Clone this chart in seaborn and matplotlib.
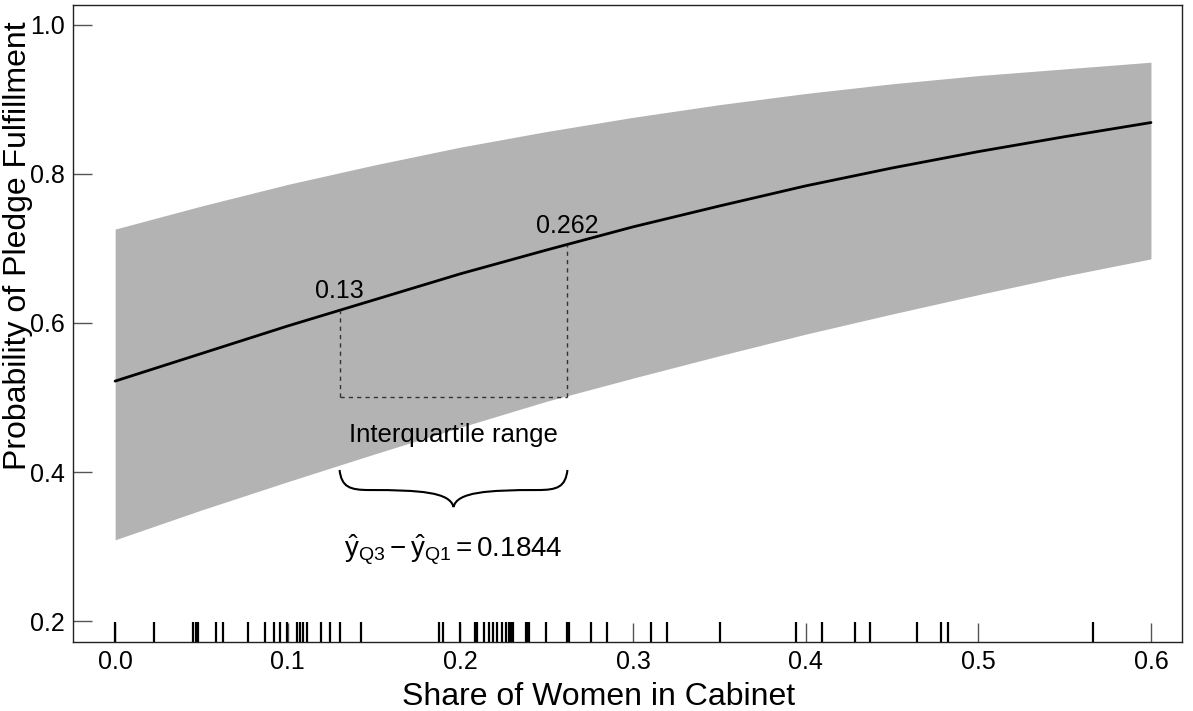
import numpy as np
import pandas as pd
import seaborn as sns
import matplotlib.pyplot as plt
from matplotlib.path import Path
from matplotlib.patches import PathPatch

# Predicted probabilities
share = [0.0, 0.05, 0.10, 0.15, 0.20, 0.25, 0.30, 0.35, 0.40, 0.45, 0.50, 0.55, 0.60]
fit = [0.522, 0.559, 0.596, 0.631, 0.666, 0.698, 0.729, 0.757, 0.784, 0.808, 0.830, 0.850, 0.869]
upper = [0.726, 0.757, 0.786, 0.812, 0.836, 0.857, 0.876, 0.893, 0.908, 0.921, 0.932, 0.941, 0.950]
lower = [0.309, 0.349, 0.387, 0.424, 0.460, 0.495, 0.526, 0.556, 0.585, 0.612, 0.638, 0.663, 0.686]

# Observed cabinet shares (rug)
observed = [0.0, 0.0225, 0.0453, 0.0467, 0.048, 0.0585, 0.0623, 0.077, 0.0867, 0.092,
            0.0955, 0.0998, 0.1056, 0.107, 0.1087, 0.111, 0.1195, 0.1245, 0.130, 0.1426,
            0.1877, 0.190, 0.1998, 0.2085, 0.2098, 0.2137, 0.2166, 0.219, 0.2213, 0.2242,
            0.2265, 0.2282, 0.2294, 0.2306, 0.2381, 0.2389, 0.2398, 0.2495, 0.2618, 0.2624,
            0.263, 0.2755, 0.2852, 0.3103, 0.3196, 0.3501, 0.3945, 0.4092, 0.4285, 0.4374,
            0.4644, 0.4783, 0.4826, 0.5667]

q1, q3 = 0.13, 0.262
q1_fit, q3_fit = 0.617, 0.705
base_y = 0.5
diff_label = r'$\hat{\mathrm{y}}_{\mathrm{Q3}} - \hat{\mathrm{y}}_{\mathrm{Q1}} = 0.1844$'

sns.set_style('ticks')
plt.rcParams['font.family'] = ['Liberation Sans', 'DejaVu Sans']
plt.rcParams['mathtext.fontset'] = 'custom'
plt.rcParams['mathtext.rm'] = 'Liberation Sans'
plt.rcParams['mathtext.it'] = 'Liberation Sans'
plt.rcParams['text.color'] = 'black'
plt.rcParams['axes.labelcolor'] = 'black'
plt.rcParams['xtick.labelcolor'] = 'black'
plt.rcParams['ytick.labelcolor'] = 'black'

df = pd.DataFrame({'share': share, 'fit': fit, 'lower': lower, 'upper': upper})

fig = plt.figure(figsize=(11.93, 7.11), dpi=100)
ax = fig.add_axes([0.0612, 0.097, 0.9296, 0.896])

ax.fill_between(df['share'], df['lower'], df['upper'], color='#b3b3b3', linewidth=0)
sns.lineplot(data=df, x='share', y='fit', color='black', linewidth=2, ax=ax)
sns.rugplot(x=observed, height=0.031, color='black', linewidth=1.6, ax=ax)

# interquartile guide lines
dash = dict(color='#333333', linewidth=1, linestyle=(0, (3, 3)))
ax.plot([q1, q1], [base_y, q1_fit], **dash)
ax.plot([q3, q3], [base_y, q3_fit], **dash)
ax.plot([q1, q3], [base_y, base_y], **dash)

ax.annotate('0.13', (q1, q1_fit), xytext=(0, 5), textcoords='offset points',
            ha='center', va='bottom', fontsize=18)
ax.annotate('0.262', (q3, q3_fit), xytext=(0, 5), textcoords='offset points',
            ha='center', va='bottom', fontsize=18)

mid = (q1 + q3) / 2
w = q3 - q1
ax.text(mid, 0.450, 'Interquartile range', ha='center', va='center', fontsize=18.5)

# curly brace under the interquartile range
yt, yb, ytip = 0.4027, 0.3758, 0.353
verts = [(q1, yt), (q1 + 0.009 * w, yb + 0.004), (q1 + 0.044 * w, yb), (q1 + 0.132 * w, yb),
         (q1 + 0.352 * w, yb), (q1 + 0.485 * w, yb - 0.0027), (mid, ytip),
         (q3 - 0.485 * w, yb - 0.0027), (q3 - 0.352 * w, yb), (q3 - 0.132 * w, yb),
         (q3 - 0.044 * w, yb), (q3 - 0.009 * w, yb + 0.004), (q3, yt)]
codes = [Path.MOVETO] + [Path.CURVE4] * 12
ax.add_patch(PathPatch(Path(verts, codes), fill=False, edgecolor='black', linewidth=1.5))

ax.text(mid, 0.295, diff_label, ha='center', va='center', fontsize=20)

ax.set_xlim(-0.0244, 0.618)
ax.set_ylim(0.1718, 1.0268)
ax.set_xticks([0.0, 0.1, 0.2, 0.3, 0.4, 0.5, 0.6])
ax.set_yticks([0.2, 0.4, 0.6, 0.8, 1.0])
ax.xaxis.set_major_formatter(plt.FormatStrFormatter('%.1f'))
ax.yaxis.set_major_formatter(plt.FormatStrFormatter('%.1f'))
ax.tick_params(direction='in', length=13.5, width=1, color='#555555', labelsize=18, pad=6)
for s in ax.spines.values():
    s.set_visible(True)
    s.set_linewidth(1)
    s.set_color('#222222')

ax.set_xlabel('')
ax.set_ylabel('')
fig.text(599 / 1193, 6 / 711, 'Share of Women in Cabinet', fontsize=23,
         ha='center', va='baseline')
fig.text(26 / 1193, 1 - 246 / 711, 'Probability of Pledge Fulfillment', fontsize=23,
         rotation=90, rotation_mode='anchor', ha='center', va='baseline')

fig.savefig('out.png', dpi=100)
